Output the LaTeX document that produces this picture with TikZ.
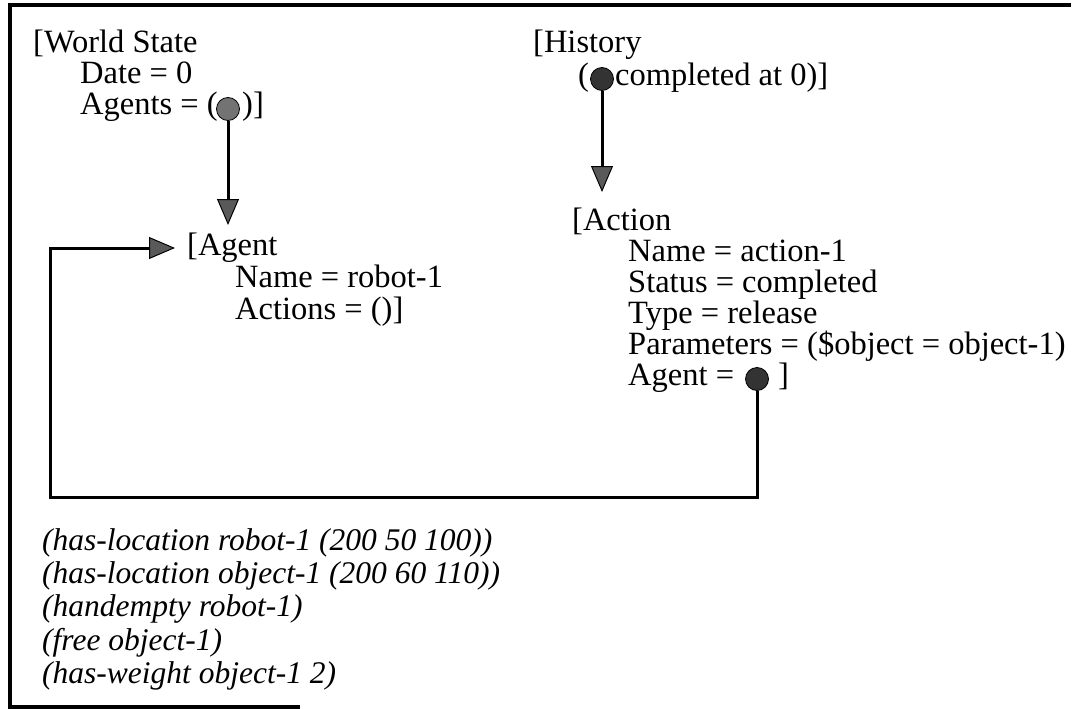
\documentclass[tikz,border=0pt]{standalone}
\usepackage{fontspec}
\setmainfont{Liberation Serif}
\usetikzlibrary{arrows.meta}
\begin{document}
\begin{tikzpicture}[x=1pt,y=-1pt,
  txt/.style={anchor=base west, inner sep=0pt, font=\fontsize{32.5}{32.5}\selectfont},
  fact/.style={anchor=base west, inner sep=0pt, font=\fontsize{31.5}{31.5}\selectfont\itshape},
  slot/.style={circle, inner sep=0pt, minimum size=23pt, draw=black, line width=0.8pt, fill=black!80},
  link/.style={line width=3pt, -{Triangle[length=26pt, width=22pt, line width=1pt, fill=black!65]}},
  frame/.style={line width=3.5pt, line join=miter}
]
\useasboundingbox (0,0) rectangle (1074,709);

% outer frame
\draw[frame] (300,707) -- (10,707) -- (10,5) -- (1071,5);

% world state record
\node[txt] (ws)     at (33,53)  {[World State};
\node[txt] (wsdate) at (80,84)  {Date = 0};
\node[txt] (wsag)   at (80,114) {Agents = (};
\node[txt] (wsend)  at (242,114) {)]};

% history record
\node[txt] (hist)  at (533,53) {[History};
\node[txt] (hopen) at (578,85) {(};
\node[txt] (hrest) at (615,85) {completed at 0)]};

% agent record
\node[txt] (agent)   at (187,255) {[Agent};
\node[txt] (agname)  at (235,287) {Name = robot-1};
\node[txt] (agacts)  at (235,319) {Actions = ()]};

% action record
\node[txt] (act)     at (572,230) {[Action};
\node[txt] (acname)  at (628,261) {Name = action-1};
\node[txt] (acstat)  at (628,292) {Status = completed};
\node[txt] (actype)  at (628,323) {Type = release};
\node[txt] (acpar)   at (628,354) {Parameters = (\$object = object-1)};
\node[txt] (acagent) at (628,385) {Agent =};
\node[txt] (acend)   at (778,385) {]};

% facts
\node[fact] (f1) at (42,550) {(has-location robot-1 (200 50 100))};
\node[fact] (f2) at (42,583) {(has-location object-1 (200 60 110))};
\node[fact] (f3) at (42,616) {(handempty robot-1)};
\node[fact] (f4) at (42,650) {(free object-1)};
\node[fact] (f5) at (42,683) {(has-weight object-1 2)};

% pointer targets and bends
\coordinate (agentin)  at (228,225);
\coordinate (actionin) at (602,192);
\coordinate (loopbl)   at (50,497);
\coordinate (loopin)   at (175,248);

% pointer slots
\node[slot, fill=black!55] (wsdot) at (228,109) {};
\node[slot] (hdot) at (602,79) {};
\node[slot] (adot) at (757,379) {};

% pointers
\draw[link] (wsdot.south) -- (agentin);
\draw[link] (hdot.south) -- (actionin);
\draw[link] (adot.south) |- (loopbl) |- (loopin);
\end{tikzpicture}
\end{document}
